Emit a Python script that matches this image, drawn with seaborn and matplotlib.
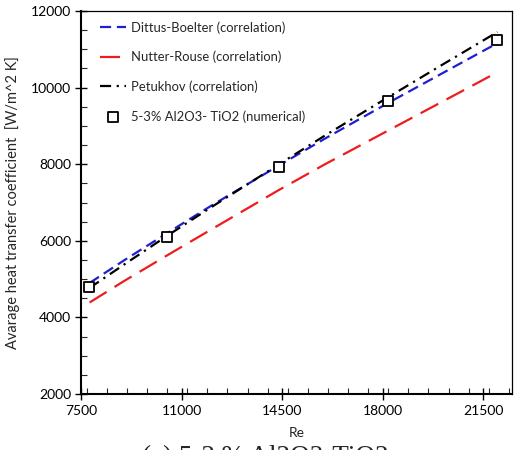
import matplotlib
matplotlib.use("Agg")
import matplotlib.pyplot as plt
import seaborn as sns
import pandas as pd
from matplotlib.ticker import MultipleLocator

sns.set_theme(style="ticks")
plt.rcParams['font.family'] = ['Lato', 'DejaVu Sans']

# Correlation lines
re_line = [7800, 9000, 10500, 12000, 14400, 16000, 18200, 20000, 22000]
dittus = [4900, 5490, 6200, 6900, 7970, 8670, 9600, 10340, 11160]
nutter = [4390, 4950, 5620, 6280, 7330, 8000, 8880, 9600, 10400]
petukhov = [4770, 5380, 6130, 6860, 8000, 8750, 9750, 10560, 11450]

# Numerical results
re_num = [7790, 10500, 14400, 18200, 22000]
h_num = [4790, 6100, 7920, 9640, 11250]

labels = ["Dittus-Boelter (correlation)", "Nutter-Rouse (correlation)",
          "Petukhov (correlation)", "5-3% Al2O3- TiO2 (numerical)"]
x_ticks = [7500, 11000, 14500, 18000, 21500]
y_ticks = [2000, 4000, 6000, 8000, 10000, 12000]

fig = plt.figure(figsize=(5.16, 4.5), dpi=100)
ax = fig.add_axes([0.157, 0.1244, 0.8347, 0.8512])

df = pd.DataFrame({"Re": re_line, "DB": dittus, "NR": nutter, "PK": petukhov})
sns.lineplot(data=df, x="Re", y="DB", ax=ax, color="#1f1fd0", lw=1.6,
             label=labels[0])
sns.lineplot(data=df, x="Re", y="NR", ax=ax, color="#ee1c1c", lw=1.6,
             label=labels[1])
sns.lineplot(data=df, x="Re", y="PK", ax=ax, color="black", lw=1.6,
             label=labels[2])
lines = ax.get_lines()
lines[0].set_dashes([5, 2.6])
lines[1].set_dashes([9, 4.2])
lines[2].set_dashes([5, 2.5, 1, 2.5])

sns.scatterplot(x=re_num, y=h_num, ax=ax, marker="s", s=45, facecolor="white",
                edgecolor="black", linewidth=1.3, zorder=5, label=labels[3])

ax.set_xlim(7500, 22500)
ax.set_ylim(2000, 12000)
ax.set_xticks(x_ticks)
ax.set_yticks(y_ticks)
ax.xaxis.set_minor_locator(MultipleLocator(700))
ax.yaxis.set_minor_locator(MultipleLocator(500))
ax.tick_params(which="major", direction="inout", length=8, width=1.0,
               labelsize=10, colors="black")
ax.tick_params(axis="x", which="major", pad=4)
ax.tick_params(axis="y", which="major", pad=3)
ax.tick_params(which="minor", direction="in", length=4, width=0.8)
for s in ["left", "bottom"]:
    ax.spines[s].set_linewidth(1.5)
for s in ["top", "right"]:
    ax.spines[s].set_linewidth(0.9)
for s in ax.spines.values():
    s.set_color("black")

ax.set_xlabel("Re", fontsize=10, labelpad=7)
ax.set_ylabel("Avarage heat transfer coefficient  [W/m^2 K]", fontsize=10.5,
              labelpad=8)

leg = ax.legend(loc="upper left", frameon=False, fontsize=9.4, handlelength=2.0,
                handletextpad=0.35, labelspacing=1.3, borderaxespad=0.4,
                bbox_to_anchor=(0.02, 1.0))

fig.text(0.515, 0.010, "(c) 5-3 % Al2O3-TiO2", fontsize=19.5,
         family="Liberation Serif", ha="center", va="top")

fig.savefig("out.png", dpi=100)
